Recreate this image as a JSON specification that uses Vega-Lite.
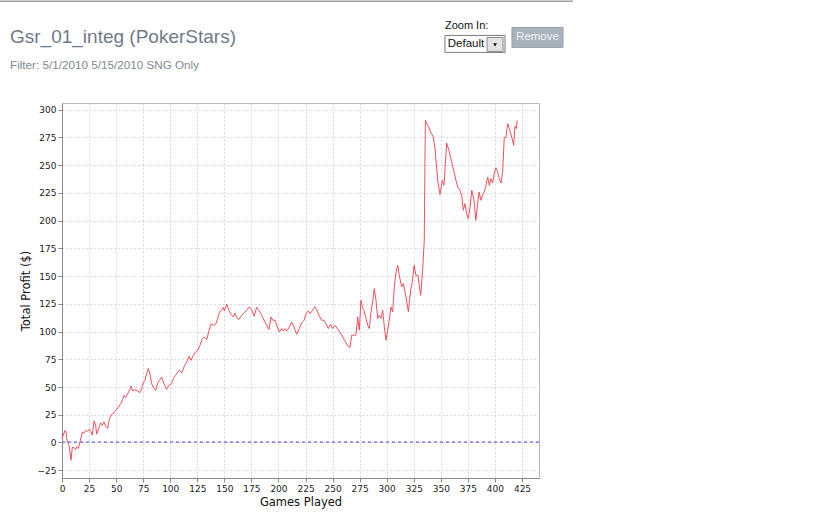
{
  "$schema": "https://vega.github.io/schema/vega-lite/v6.json",
  "width": 477,
  "height": 375,
  "autosize": "none",
  "padding": {"left": 62, "top": 103, "right": 301, "bottom": 51},
  "background": "white",
  "title": {
    "text": "Gsr_01_integ (PokerStars)",
    "subtitle": "Filter: 5/1/2010 5/15/2010 SNG Only",
    "anchor": "start",
    "frame": "group",
    "dx": -52,
    "dy": 102.5,
    "offset": 31,
    "font": "Liberation Sans",
    "fontSize": 19,
    "fontWeight": "normal",
    "color": "#6e7a86",
    "subtitleFont": "Liberation Sans",
    "subtitleFontSize": 11.7,
    "subtitleColor": "#7f8890",
    "subtitlePadding": 13
  },
  "config": {
    "view": {"stroke": "#b8b8b8", "strokeWidth": 1},
    "axis": {
      "labelFont": "DejaVu Sans",
      "labelFontSize": 9,
      "labelColor": "#222222",
      "labelOverlap": false,
      "titleFont": "DejaVu Sans",
      "titleFontSize": 11.5,
      "titleFontWeight": "normal",
      "titleColor": "#111111",
      "domainColor": "#888888",
      "tickColor": "#888888",
      "tickSize": 4,
      "labelPadding": 2,
      "grid": true,
      "gridColor": "#d6d6d6",
      "gridDash": [2, 2],
      "gridWidth": 1
    }
  },
  "resolve": {"axis": {"x": "independent", "y": "independent"}},
  "datasets": {
    "ui": [{"k": "ui"}]
  },
  "data": {
    "values": [
      {"g": 0, "p": 3.6}, {"g": 2.8, "p": 11}, {"g": 3.7, "p": 9.5}, {"g": 4.9, "p": 0.5}, {"g": 6.5, "p": -2.4},
      {"g": 8.3, "p": -16}, {"g": 9.5, "p": -4.5}, {"g": 11, "p": -4.5}, {"g": 12.6, "p": -6.3}, {"g": 13.5, "p": -4},
      {"g": 15, "p": -5.4}, {"g": 16.6, "p": 0.5}, {"g": 18.8, "p": 9.5}, {"g": 20.3, "p": 8.6}, {"g": 22, "p": 11},
      {"g": 23.7, "p": 10}, {"g": 25.2, "p": 12}, {"g": 26.5, "p": 10}, {"g": 28, "p": 6.6}, {"g": 29.6, "p": 19.5},
      {"g": 31.1, "p": 15.6}, {"g": 32, "p": 7.5}, {"g": 33.9, "p": 12.6}, {"g": 35.7, "p": 17.7}, {"g": 37.2, "p": 15.6},
      {"g": 38.8, "p": 18.6}, {"g": 40.3, "p": 14.7}, {"g": 42.2, "p": 12.6}, {"g": 43.7, "p": 20.7}, {"g": 45, "p": 24.6},
      {"g": 46.8, "p": 25.5}, {"g": 48.3, "p": 27.6}, {"g": 49.9, "p": 29}, {"g": 52, "p": 32}, {"g": 54.2, "p": 35},
      {"g": 56, "p": 38.7}, {"g": 57.3, "p": 42.6}, {"g": 58.8, "p": 40.5}, {"g": 60.7, "p": 44}, {"g": 62.8, "p": 47.7},
      {"g": 63.7, "p": 50.7}, {"g": 65.3, "p": 46.5}, {"g": 67.4, "p": 47.7}, {"g": 69.6, "p": 46.5}, {"g": 72, "p": 45},
      {"g": 73.6, "p": 48.6}, {"g": 75.1, "p": 53.7}, {"g": 76.7, "p": 56}, {"g": 78.2, "p": 62}, {"g": 79.7, "p": 66.7},
      {"g": 81.3, "p": 62}, {"g": 82.8, "p": 53}, {"g": 85, "p": 48.6}, {"g": 86.8, "p": 47}, {"g": 88.4, "p": 53.7},
      {"g": 89.9, "p": 56}, {"g": 92.1, "p": 59}, {"g": 94.2, "p": 53}, {"g": 96.7, "p": 48}, {"g": 98.9, "p": 51.6},
      {"g": 101.3, "p": 53}, {"g": 102.8, "p": 57.7}, {"g": 105, "p": 60.6}, {"g": 106.9, "p": 63.6}, {"g": 109, "p": 65},
      {"g": 110.6, "p": 62.7}, {"g": 113, "p": 68.7}, {"g": 115.2, "p": 72.6}, {"g": 117.4, "p": 77.7}, {"g": 119.2, "p": 74},
      {"g": 121.3, "p": 78.6}, {"g": 123.5, "p": 81.6}, {"g": 125.4, "p": 83}, {"g": 127.5, "p": 87.7}, {"g": 129.6, "p": 93.7},
      {"g": 131.5, "p": 95}, {"g": 133.7, "p": 92.8}, {"g": 135.8, "p": 100.6}, {"g": 137.7, "p": 107}, {"g": 139.8, "p": 105.7},
      {"g": 142, "p": 106.6}, {"g": 143.8, "p": 111.7}, {"g": 145.3, "p": 116.8}, {"g": 147.5, "p": 119.8}, {"g": 149, "p": 121.6},
      {"g": 150, "p": 118.6}, {"g": 152.2, "p": 124.6}, {"g": 154.3, "p": 119.2}, {"g": 156.1, "p": 115.6}, {"g": 158.3, "p": 113.2},
      {"g": 159.8, "p": 116.8}, {"g": 161.4, "p": 112.6}, {"g": 163.5, "p": 110.8}, {"g": 165.4, "p": 113.8}, {"g": 167.5, "p": 116.2},
      {"g": 170.6, "p": 119}, {"g": 173, "p": 122.2}, {"g": 175.2, "p": 119.8}, {"g": 177.4, "p": 113.8}, {"g": 179.9, "p": 121.8},
      {"g": 182.3, "p": 118.6}, {"g": 184.5, "p": 114.7}, {"g": 186.6, "p": 110.2}, {"g": 189.1, "p": 105.7}, {"g": 191.2, "p": 101.8},
      {"g": 193.1, "p": 113.2}, {"g": 194.7, "p": 110.2}, {"g": 196.8, "p": 110.2}, {"g": 198.9, "p": 104.1}, {"g": 200.8, "p": 99.6},
      {"g": 203, "p": 102.7}, {"g": 204.5, "p": 100.5}, {"g": 206, "p": 102.7}, {"g": 207.6, "p": 100.5}, {"g": 209.7, "p": 103.6},
      {"g": 212.2, "p": 108.6}, {"g": 214.3, "p": 104.1}, {"g": 216.8, "p": 97.6}, {"g": 219.2, "p": 102.7}, {"g": 221.4, "p": 107.7},
      {"g": 223.6, "p": 110.2}, {"g": 225.4, "p": 116.2}, {"g": 227.6, "p": 118.6}, {"g": 229.1, "p": 116.2}, {"g": 231.6, "p": 119.2},
      {"g": 233.7, "p": 122.2}, {"g": 235.3, "p": 119.8}, {"g": 237.4, "p": 114.7}, {"g": 239.9, "p": 110.2}, {"g": 242, "p": 110.2},
      {"g": 243.9, "p": 107.2}, {"g": 246, "p": 102.7}, {"g": 248.2, "p": 106.6}, {"g": 250.1, "p": 102.7}, {"g": 252.2, "p": 105.7},
      {"g": 254.3, "p": 102.7}, {"g": 256.8, "p": 99.6}, {"g": 259.3, "p": 95.1}, {"g": 261.5, "p": 91.5}, {"g": 263.6, "p": 87.7},
      {"g": 266.1, "p": 85.6}, {"g": 267.6, "p": 96.7}, {"g": 269.8, "p": 96.7}, {"g": 271.6, "p": 96.7}, {"g": 273.2, "p": 113.2},
      {"g": 274.7, "p": 101.2}, {"g": 276.2, "p": 128.2}, {"g": 277.8, "p": 120.7}, {"g": 279, "p": 119.2}, {"g": 280.9, "p": 111.7},
      {"g": 282.4, "p": 105.7}, {"g": 283.9, "p": 102.7}, {"g": 285.5, "p": 117.7}, {"g": 287, "p": 126.7}, {"g": 288.5, "p": 138.7},
      {"g": 290.1, "p": 128.2}, {"g": 291.7, "p": 111.7}, {"g": 293.1, "p": 114.7}, {"g": 294.7, "p": 111.7}, {"g": 296.3, "p": 119.2},
      {"g": 297.8, "p": 104.1}, {"g": 299.3, "p": 92.2}, {"g": 300.9, "p": 101.2}, {"g": 302.4, "p": 110.2}, {"g": 304, "p": 122.2},
      {"g": 305.5, "p": 117.7}, {"g": 307, "p": 140.2}, {"g": 308.6, "p": 153.7}, {"g": 310.1, "p": 159.7}, {"g": 311.6, "p": 150.7},
      {"g": 313.8, "p": 140.2}, {"g": 315.3, "p": 143.2}, {"g": 317.5, "p": 132.7}, {"g": 320, "p": 118}, {"g": 322.2, "p": 138},
      {"g": 323.6, "p": 144.7}, {"g": 325.3, "p": 159.7}, {"g": 327, "p": 150.7}, {"g": 328.8, "p": 150.7}, {"g": 331.4, "p": 132.7},
      {"g": 333.2, "p": 155.2}, {"g": 334.7, "p": 182.3}, {"g": 335.7, "p": 290.4}, {"g": 338.4, "p": 285}, {"g": 340.6, "p": 279.8},
      {"g": 343, "p": 275.3}, {"g": 344.6, "p": 264.9}, {"g": 347.1, "p": 236.3}, {"g": 349.2, "p": 223.5}, {"g": 351.4, "p": 236.3},
      {"g": 352.9, "p": 231.8}, {"g": 355.4, "p": 269.9}, {"g": 357.5, "p": 263.3}, {"g": 360, "p": 252.8}, {"g": 362.2, "p": 243.8},
      {"g": 364, "p": 236.3}, {"g": 365.6, "p": 230.3}, {"g": 367.7, "p": 227.3}, {"g": 369.3, "p": 222.8}, {"g": 370.8, "p": 209.3},
      {"g": 372.3, "p": 215.3}, {"g": 373.9, "p": 206.3}, {"g": 375.4, "p": 201.8}, {"g": 377, "p": 212.3}, {"g": 378.6, "p": 227.3},
      {"g": 380.7, "p": 218.3}, {"g": 382.3, "p": 200.3}, {"g": 383.7, "p": 212.3}, {"g": 385.3, "p": 225.8}, {"g": 386.9, "p": 218.3},
      {"g": 388.4, "p": 222.8}, {"g": 390, "p": 225.8}, {"g": 391.5, "p": 230.9}, {"g": 393.3, "p": 239.3}, {"g": 394.8, "p": 231.8},
      {"g": 396.3, "p": 237.8}, {"g": 397.9, "p": 233.9}, {"g": 399.4, "p": 242.9}, {"g": 401, "p": 247.7}, {"g": 402.5, "p": 243.8},
      {"g": 404, "p": 237.8}, {"g": 405.6, "p": 233.9}, {"g": 407.1, "p": 243.8}, {"g": 408.6, "p": 274.8}, {"g": 410.2, "p": 275.3},
      {"g": 411.8, "p": 287.4}, {"g": 413.3, "p": 282.9}, {"g": 415.5, "p": 275.3}, {"g": 417.3, "p": 267.8}, {"g": 418.5, "p": 285},
      {"g": 419.7, "p": 282.9}, {"g": 420.6, "p": 290.4}
    ]
  },
  "layer": [
    {
      "mark": {"type": "rule", "color": "#8585e2", "strokeDash": [3, 3], "strokeWidth": 1},
      "encoding": {"y": {"datum": 0, "type": "quantitative", "axis": null}}
    },
    {
      "mark": {"type": "line", "color": "#f0505a", "strokeWidth": 1, "interpolate": "linear"},
      "encoding": {
        "x": {
          "field": "g", "type": "quantitative",
          "scale": {"domain": [0, 440.7], "nice": false, "zero": false},
          "axis": {"title": "Games Played", "grid": true, "labelOverlap": false, "values": [0, 25, 50, 75, 100, 125, 150, 175, 200, 225, 250, 275, 300, 325, 350, 375, 400, 425], "titlePadding": 3, "labelFlush": false}
        },
        "y": {
          "field": "p", "type": "quantitative",
          "scale": {"domain": [-32, 306], "nice": false, "zero": false},
          "axis": {"title": "Total Profit ($)", "grid": true, "labelOverlap": false, "labelFlush": false, "values": [-25, 0, 25, 50, 75, 100, 125, 150, 175, 200, 225, 250, 275, 300], "titlePadding": 6}
        }
      }
    },
    {
      "data": {"name": "ui"},
      "mark": {"type": "rule", "color": "#a0a0a0", "strokeWidth": 1.5},
      "encoding": {"x": {"datum": -57.3, "type": "quantitative", "axis": null}, "x2": {"datum": 472.1}, "y": {"datum": 397.6, "type": "quantitative", "axis": null}}
    },
    {
      "data": {"name": "ui"},
      "mark": {"type": "text", "text": "Zoom In:", "align": "left", "baseline": "middle", "font": "Liberation Sans", "fontSize": 11, "color": "#111111"},
      "encoding": {"x": {"datum": 353.8, "type": "quantitative", "axis": null}, "y": {"datum": 375.5, "type": "quantitative", "axis": null}}
    },
    {
      "data": {"name": "ui"},
      "mark": {"type": "rect", "fill": "white", "stroke": "#7a7a7a", "strokeWidth": 1},
      "encoding": {"x": {"datum": 353.8, "type": "quantitative", "axis": null}, "x2": {"datum": 409.3}, "y": {"datum": 366.9, "type": "quantitative", "axis": null}, "y2": {"datum": 351.6}}
    },
    {
      "data": {"name": "ui"},
      "mark": {"type": "text", "text": "Default", "align": "left", "baseline": "middle", "font": "Liberation Sans", "fontSize": 11.5, "color": "#111111"},
      "encoding": {"x": {"datum": 356.4, "type": "quantitative", "axis": null}, "y": {"datum": 359.0, "type": "quantitative", "axis": null}}
    },
    {
      "data": {"name": "ui"},
      "mark": {"type": "rect", "fill": "#e4e4e4", "stroke": "#8a8a8a", "strokeWidth": 1},
      "encoding": {"x": {"datum": 392.7, "type": "quantitative", "axis": null}, "x2": {"datum": 407.5}, "y": {"datum": 365.1, "type": "quantitative", "axis": null}, "y2": {"datum": 352.5}}
    },
    {
      "data": {"name": "ui"},
      "mark": {"type": "point", "shape": "triangle-down", "filled": true, "color": "#111111", "size": 14, "opacity": 1},
      "encoding": {"x": {"datum": 400.1, "type": "quantitative", "axis": null}, "y": {"datum": 358.3, "type": "quantitative", "axis": null}}
    },
    {
      "data": {"name": "ui"},
      "mark": {"type": "rect", "fill": "#a9b3bd", "stroke": "#98a2ac", "strokeWidth": 1},
      "encoding": {"x": {"datum": 415.7, "type": "quantitative", "axis": null}, "x2": {"datum": 462.9}, "y": {"datum": 374.1, "type": "quantitative", "axis": null}, "y2": {"datum": 356.1}}
    },
    {
      "data": {"name": "ui"},
      "mark": {"type": "text", "text": "Remove", "align": "center", "baseline": "middle", "font": "Liberation Sans", "fontSize": 11.5, "color": "#eef2f5"},
      "encoding": {"x": {"datum": 439.3, "type": "quantitative", "axis": null}, "y": {"datum": 365.1, "type": "quantitative", "axis": null}}
    }
  ]
}
